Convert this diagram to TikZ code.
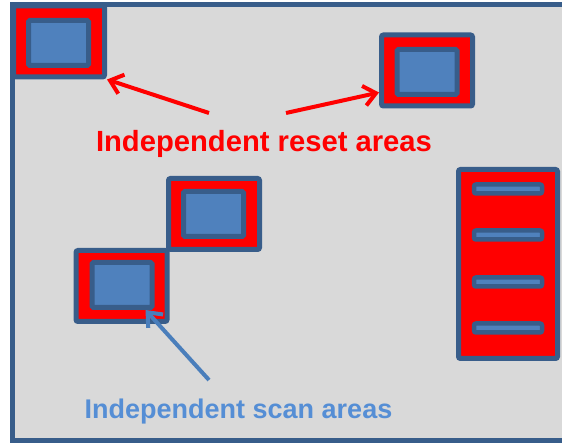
\documentclass[tikz,border=0pt]{standalone}
\usepackage{fontspec}
\setmainfont{Liberation Sans}
\usetikzlibrary{arrows.meta}
\definecolor{frameblue}{HTML}{385D8A}
\definecolor{fillblue}{HTML}{4F81BD}
\definecolor{panelgray}{HTML}{D9D9D9}
\definecolor{scanblue}{HTML}{558ED5}
\definecolor{arrowblue}{HTML}{4A7EBB}
\tikzstyle{resetbox} = [draw=frameblue, fill=red, line width=5pt, rounded corners=2pt, minimum width=91pt, minimum height=71pt, inner sep=0pt]
\tikzstyle{scanbox} = [draw=frameblue, fill=fillblue, line width=5pt, rounded corners=1.5pt, minimum width=60pt, minimum height=45pt, inner sep=0pt]
\tikzstyle{bar} = [draw=frameblue, fill=fillblue, line width=4.5pt, rounded corners=2pt, minimum width=68pt, minimum height=9pt, inner sep=0pt]
\tikzstyle{redarrow} = [draw=red, line width=4pt, -{Straight Barb[length=12pt,width=20pt]}]
\tikzstyle{bluearrow} = [draw=arrowblue, line width=4pt, -{Straight Barb[length=12pt,width=20pt]}]
\tikzstyle{label} = [font=\bfseries\fontsize{29.2}{34}\selectfont, anchor=base, inner sep=0pt]

\begin{document}
\begin{tikzpicture}[x=1pt,y=-1pt]
\useasboundingbox (0,0) rectangle (562,443);
\draw[draw=frameblue, fill=panelgray, line width=5pt] (12.5,5) rectangle (570,440.5);

\node[resetbox] (r1) at (59,41.5) {};
\node[scanbox] (s1) at (58.5,43) {};
\node[resetbox] (r2) at (427,70.5) {};
\node[scanbox] (s2) at (427,72) {};
\node[resetbox] (r3) at (214,214) {};
\node[scanbox] (s3) at (213.5,214) {};
\node[resetbox] (r4) at (121.5,286) {};
\node[scanbox] (s4) at (122,285) {};

\node[resetbox, minimum width=99pt, minimum height=189pt] (r5) at (508,264) {};
\foreach \y [count=\i] in {189,235,282,328}
  \node[bar] (bar\i) at (508,\y) {};

\node[label, text=red] (resettxt) at (264,152) {Independent reset areas};
\node[label, text=scanblue, font=\bfseries\fontsize{27}{32}\selectfont] (scantxt) at (238.5,418) {Independent scan areas};

\coordinate (t1) at (209,113);
\coordinate (t2) at (286,113);
\coordinate (t3) at (209,380);
\draw[redarrow] (t1) -- (r1.south east);
\draw[redarrow] (t2) -- ([yshift=-22pt]r2.west);
\draw[bluearrow] (t3) -- ([xshift=-9pt]s4.south east);
\end{tikzpicture}
\end{document}
